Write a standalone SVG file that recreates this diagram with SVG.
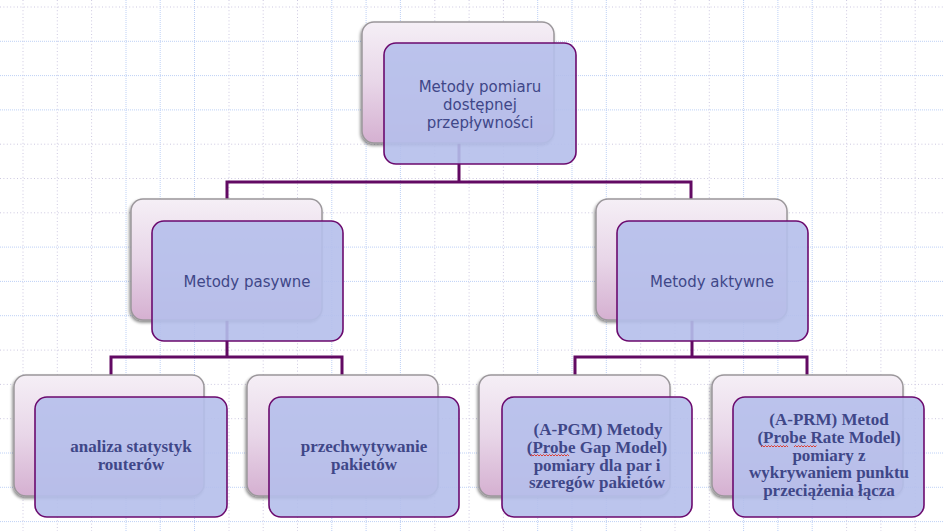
<svg xmlns="http://www.w3.org/2000/svg" width="943" height="531" viewBox="0 0 943 531">
<defs>
<linearGradient id="bg" x1="0" y1="0" x2="0" y2="1">
<stop offset="0" stop-color="#f5eff6"/>
<stop offset="0.5" stop-color="#e8d6e8"/>
<stop offset="1" stop-color="#d5b0d1"/>
</linearGradient>
<filter id="sh" x="-10%" y="-10%" width="120%" height="125%">
<feDropShadow dx="-1" dy="2" stdDeviation="1.5" flood-color="#000" flood-opacity="0.45"/>
</filter>
</defs>
<style>
.gg{stroke:#cdc8e0;stroke-width:1;stroke-dasharray:1 2.4;fill:none}
.gb{stroke:#bed1f6;stroke-width:1;stroke-dasharray:1 1;fill:none}
.back{fill:url(#bg);stroke:#9b979b;stroke-width:1.5;filter:url(#sh)}
.front{fill:#b5bfeb;fill-opacity:0.9;stroke:#6b0a6e;stroke-width:1.6}
.conn{fill:none;stroke:#620a63;stroke-width:3;stroke-linejoin:miter;stroke-linecap:square}
.ts{font-family:"DejaVu Sans","Liberation Sans",sans-serif;font-size:15px;fill:#3f4788;text-anchor:middle}
.tb{font-family:"Liberation Serif","DejaVu Serif",serif;font-weight:bold;font-size:17px;fill:#3f4788;text-anchor:middle}
.sq{fill:none;stroke:#e0301e;stroke-width:0.9}
</style>
<rect width="943" height="531" fill="#ffffff"/>
<g id="grid">
<path class="gg" d="M23,0V531M57.3,0V531M91.6,0V531M229,0V531M263.2,0V531M297.5,0V531M434.8,0V531M469.1,0V531M503.4,0V531M640.7,0V531M675,0V531M709.3,0V531M846.6,0V531M880.9,0V531M915.2,0V531"/>
<path class="gb" d="M126,0V531M160.2,0V531M194.5,0V531M331.8,0V531M366.1,0V531M400.4,0V531M537.7,0V531M572,0V531M606.3,0V531M743.6,0V531M777.9,0V531M812.2,0V531"/>
<path class="gg" d="M0,7H943M0,144.2H943M0,178.5H943M0,212.8H943M0,350.1H943M0,384.4H943M0,418.7H943"/>
<path class="gb" d="M0,41.3H943M0,75.6H943M0,109.9H943M0,247.1H943M0,281.4H943M0,315.7H943M0,453H943M0,487.3H943M0,521.6H943"/>
</g>
<g id="connectors">
<path class="conn" d="M459,143V182M227,199V182H691V199"/>
<path class="conn" d="M227,320V357M111,375V357H342V375"/>
<path class="conn" d="M692,320V357M575,375V357H807V375"/>
</g>
<g id="n-root">
<rect class="back" x="362" y="22" width="192" height="121" rx="12"/>
<rect class="front" x="384" y="43" width="192" height="121" rx="12"/>
<text class="ts" x="480" y="92">Metody pomiaru</text>
<text class="ts" x="480" y="110">dostępnej</text>
<text class="ts" x="480" y="128">przepływności</text>
</g>
<g id="n-pasywne">
<rect class="back" x="131" y="199" width="191" height="121" rx="12"/>
<rect class="front" x="152" y="221" width="191" height="120" rx="12"/>
<text class="ts" x="247" y="287">Metody pasywne</text>
</g>
<g id="n-aktywne">
<rect class="back" x="596" y="199" width="191" height="121" rx="12"/>
<rect class="front" x="617" y="221" width="191" height="120" rx="12"/>
<text class="ts" x="712" y="287">Metody aktywne</text>
</g>
<g id="n-analiza">
<rect class="back" x="14" y="375" width="190" height="121" rx="12"/>
<rect class="front" x="35" y="397" width="192" height="120" rx="12"/>
<text class="tb" x="131" y="452">analiza statystyk</text>
<text class="tb" x="131" y="470">routerów</text>
</g>
<g id="n-przechwytywanie">
<rect class="back" x="247" y="375" width="191" height="121" rx="12"/>
<rect class="front" x="269" y="397" width="190" height="120" rx="12"/>
<text class="tb" x="364" y="452">przechwytywanie</text>
<text class="tb" x="364" y="470">pakietów</text>
</g>
<g id="n-apgm">
<rect class="back" x="479" y="375" width="191" height="121" rx="12"/>
<rect class="front" x="502" y="397" width="190" height="120" rx="12"/>
<text class="tb" x="598" y="435">(A-PGM) Metody</text>
<text class="tb" x="597" y="453">(Probe Gap Model)</text>
<text class="tb" x="597" y="470.5">pomiary dla par i</text>
<text class="tb" x="597" y="488">szeregów pakietów</text>
<path class="sq" d="M530,456l1.5,-1.5l1.5,1.5l1.5,-1.5l1.5,1.5l1.5,-1.5l1.5,1.5l1.5,-1.5l1.5,1.5l1.5,-1.5l1.5,1.5l1.5,-1.5l1.5,1.5l1.5,-1.5l1.5,1.5l1.5,-1.5l1.5,1.5l1.5,-1.5l1.5,1.5l1.5,-1.5l1.5,1.5l1.5,-1.5l1.5,1.5l1.5,-1.5l1.5,1.5l1.5,-1.5l1.5,1.5"/>
</g>
<g id="n-aprm">
<rect class="back" x="712" y="375" width="191" height="121" rx="12"/>
<rect class="front" x="733" y="397" width="191" height="120" rx="12"/>
<text class="tb" x="829" y="425">(A-PRM) Metod</text>
<text class="tb" x="829" y="443">(Probe Rate Model)</text>
<text class="tb" x="829" y="460.5">pomiary z</text>
<text class="tb" x="829" y="478">wykrywaniem punktu</text>
<text class="tb" x="829" y="496">przeciążenia łącza</text>
<path class="sq" d="M761,447l1.5,-1.5l1.5,1.5l1.5,-1.5l1.5,1.5l1.5,-1.5l1.5,1.5l1.5,-1.5l1.5,1.5l1.5,-1.5l1.5,1.5l1.5,-1.5l1.5,1.5l1.5,-1.5l1.5,1.5l1.5,-1.5l1.5,1.5l1.5,-1.5l1.5,1.5"/>
<path class="sq" d="M794,447l1.5,-1.5l1.5,1.5l1.5,-1.5l1.5,1.5l1.5,-1.5l1.5,1.5l1.5,-1.5l1.5,1.5l1.5,-1.5l1.5,1.5l1.5,-1.5l1.5,1.5l1.5,-1.5l1.5,1.5l1.5,-1.5"/>
</g>
</svg>
